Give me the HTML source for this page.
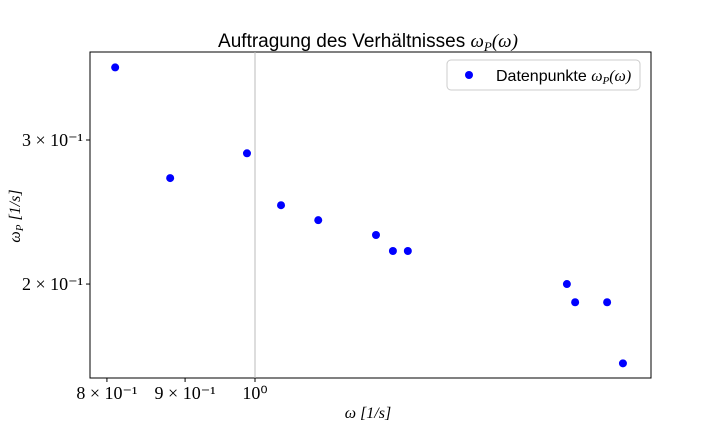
<!DOCTYPE html>
<html><head><meta charset="utf-8"><style>
body{margin:0;background:#fff;width:720px;height:432px;overflow:hidden}
svg text{font-family:"Liberation Serif",serif}
</style></head><body>
<svg id="chart" width="720" height="432">
<text x="368" y="47" text-anchor="middle" font-size="19" style="font-family:'Liberation Sans',sans-serif">Auftragung des Verhältnisses <tspan font-style="italic" style="font-family:'Liberation Serif',serif">ω<tspan font-size="13" dy="4">P</tspan><tspan dy="-4">(ω)</tspan></tspan></text>
<rect x="90" y="52" width="561" height="326" fill="none" stroke="#000" stroke-width="1"/>
<g id="marks"></g>
<g id="xticks"></g><g id="yticks"></g>
<text x="368" y="418" text-anchor="middle" font-size="16" font-style="italic">ω [1/s]</text>
<text transform="translate(20,216) rotate(-90)" text-anchor="middle" font-size="16" font-style="italic">ω<tspan font-size="11" dy="3">P</tspan><tspan dy="-3"> [1/s]</tspan></text>
<g>
<rect x="447" y="60" width="193" height="30" rx="4" fill="#fff" stroke="#ccc"/>
<circle cx="469" cy="75" r="4" fill="#0000ff"/>
<text x="496" y="81" font-size="16" style="font-family:'Liberation Sans',sans-serif">Datenpunkte <tspan font-style="italic" style="font-family:'Liberation Serif',serif">ω<tspan font-size="11" dy="3">P</tspan><tspan dy="-3">(ω)</tspan></tspan></text>
</g>
</svg>
<script>
const xVals=[0.810,0.880,0.988,1.040,1.100,1.200,1.231,1.259,1.600,1.620,1.700,1.741];
const yVals=[0.368,0.2695,0.289,0.2497,0.2394,0.2296,0.2195,0.2195,0.2,0.190,0.190,0.160];
const xTickVals=[0.8,0.9,1.0];
const xTickLabels=["8 × 10⁻¹","9 × 10⁻¹","10⁰"];
const yTickVals=[0.3,0.2];
const yTickLabels=["3 × 10⁻¹","2 × 10⁻¹"];
const NS="http://www.w3.org/2000/svg";
function xs(v){return 255+1528*Math.log10(v);}
function ys(v){return 140-818*(Math.log10(v)-Math.log10(0.3));}
const marks=document.getElementById('marks');
const vl=document.createElementNS(NS,'line');
vl.setAttribute('x1',xs(1));vl.setAttribute('x2',xs(1));vl.setAttribute('y1',52);vl.setAttribute('y2',378);
vl.setAttribute('stroke','#bbb');


marks.appendChild(vl);
xVals.forEach((x,i)=>{const c=document.createElementNS(NS,'circle');
c.setAttribute('cx',xs(x));c.setAttribute('cy',ys(yVals[i]));c.setAttribute('r',4);c.setAttribute('fill','#0000ff');


marks.appendChild(c);});
const xt=document.getElementById('xticks');
xTickVals.forEach((v,i)=>{const x=xs(v);
const l=document.createElementNS(NS,'line');l.setAttribute('x1',x);l.setAttribute('x2',x);l.setAttribute('y1',378);l.setAttribute('y2',382);l.setAttribute('stroke','#000');


xt.appendChild(l);
const t=document.createElementNS(NS,'text');t.setAttribute('x',x);t.setAttribute('y',399);t.setAttribute('text-anchor','middle');t.setAttribute('font-size','18');t.textContent=xTickLabels[i];


xt.appendChild(t);});
const yt=document.getElementById('yticks');
yTickVals.forEach((v,i)=>{const y=ys(v);
const l=document.createElementNS(NS,'line');l.setAttribute('x1',86);l.setAttribute('x2',90);l.setAttribute('y1',y);l.setAttribute('y2',y);l.setAttribute('stroke','#000');


yt.appendChild(l);
const t=document.createElementNS(NS,'text');t.setAttribute('x',83);t.setAttribute('y',y+6);t.setAttribute('text-anchor','end');t.setAttribute('font-size','18');t.textContent=yTickLabels[i];


yt.appendChild(t);});
</script>
</body></html>
